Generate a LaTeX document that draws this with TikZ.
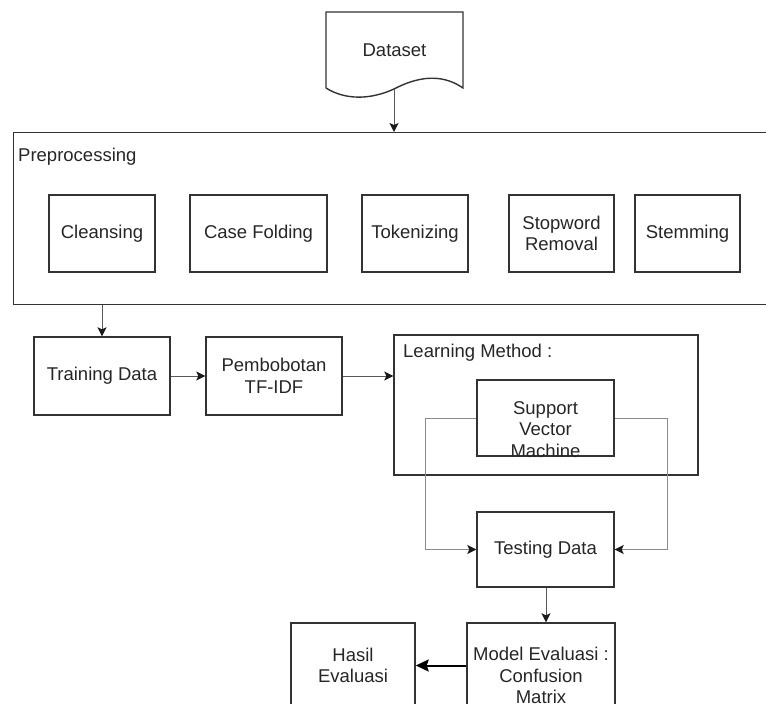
\documentclass[tikz,border=0pt]{standalone}
\usepackage{fontspec}
\setmainfont{Liberation Sans}
\usetikzlibrary{arrows.meta}

\begin{document}
\begin{tikzpicture}[>={Stealth[length=9pt,width=9pt,inset=2pt,color=black!90]}, x=1pt, y=-1pt,
		every node/.style={font=\fontsize{18.5}{21.5}\selectfont, text=black!85},
		box/.style={draw=black!80, line width=1.4pt, inner sep=0pt, align=center, minimum height=77pt},
		link/.style={->, draw=black!65, line width=1pt},
		around/.style={->, draw=black!45, line width=1pt}]
		\useasboundingbox (0,0) rectangle (766,704);
		\clip (0,0) rectangle (766,704);
		% dataset
		\draw[draw=black!80, line width=1.4pt] (326,88) -- (326,12) -- (463,12) -- (463,88) .. controls (440,72) and (415,78) .. (394,89) .. controls (370,100) and (345,100) .. (326,88);
		\node (data) at (394.5,50) {Dataset};
		\coordinate (databot) at (394,89);
		% preprocessing
		\node[box, anchor=north west, minimum width=780pt, minimum height=172pt] (pre) at (13,132) {};
		\node[anchor=west, inner sep=0pt] (pretitle) at (18,157) {Preprocessing};
		\node[box, minimum width=106pt] (clean) at (102,233.5) {Cleansing};
		\node[box, minimum width=137pt] (fold) at (258.5,233.5) {Case Folding};
		\node[box, minimum width=106pt] (token) at (415,233.5) {Tokenizing};
		\node[box, minimum width=105pt] (stop) at (561.5,233.5) {Stopword\\Removal};
		\node[box, minimum width=105pt] (stem) at (687.5,233.5) {Stemming};
		% training
		\node[box, minimum width=136pt, minimum height=78pt] (train) at (102,376) {Training Data};
		\node[box, minimum width=136pt, minimum height=78pt] (tfidf) at (274,376) {Pembobotan\\TF-IDF};
		% learning method
		\node[box, minimum width=304pt, minimum height=140pt] (learn) at (546,405) {};
		\node[anchor=west, inner sep=0pt] (learntitle) at (403,353) {Learning Method :};
		\node[box, minimum width=137pt, minimum height=76pt] (svm) at (545.5,418) {};
		\node[align=center, inner sep=0pt] (svmtext) at (545.5,429.5) {Support\\Vector\\Machine};
		% testing and evaluation
		\node[box, minimum width=137pt, minimum height=75pt] (test) at (545.5,549.5) {Testing Data};
		\node[box, minimum width=148pt, minimum height=85pt] (model) at (541,665.5) {};
		\node[align=center, inner sep=0pt] (modeltext) at (541,675.5) {Model Evaluasi :\\Confusion\\Matrix};
		\node[box, minimum width=124pt, minimum height=85pt] (hasil) at (353,665.5) {Hasil\\Evaluasi};

		\draw[link] (databot) -- (databot |- pre.north);
		\draw[link] (pre.south -| train.north) -- (train.north);
		\draw[link] (train) -- (tfidf);
		\draw[link] (tfidf.east) -- (tfidf.east -| learn.west);
		\draw[around] (svm.west) -- ++(-51,0) |- (test.west);
		\draw[around] (svm.east) -- ++(53,0) |- (test.east);
		\draw[link] (test.south -| 546,0) -- (model.north -| 546,0);
		\draw[->, >={Stealth[length=13pt,width=12pt,inset=2pt]}, line width=2pt] (model) -- (hasil);
	\end{tikzpicture}
\end{document}
